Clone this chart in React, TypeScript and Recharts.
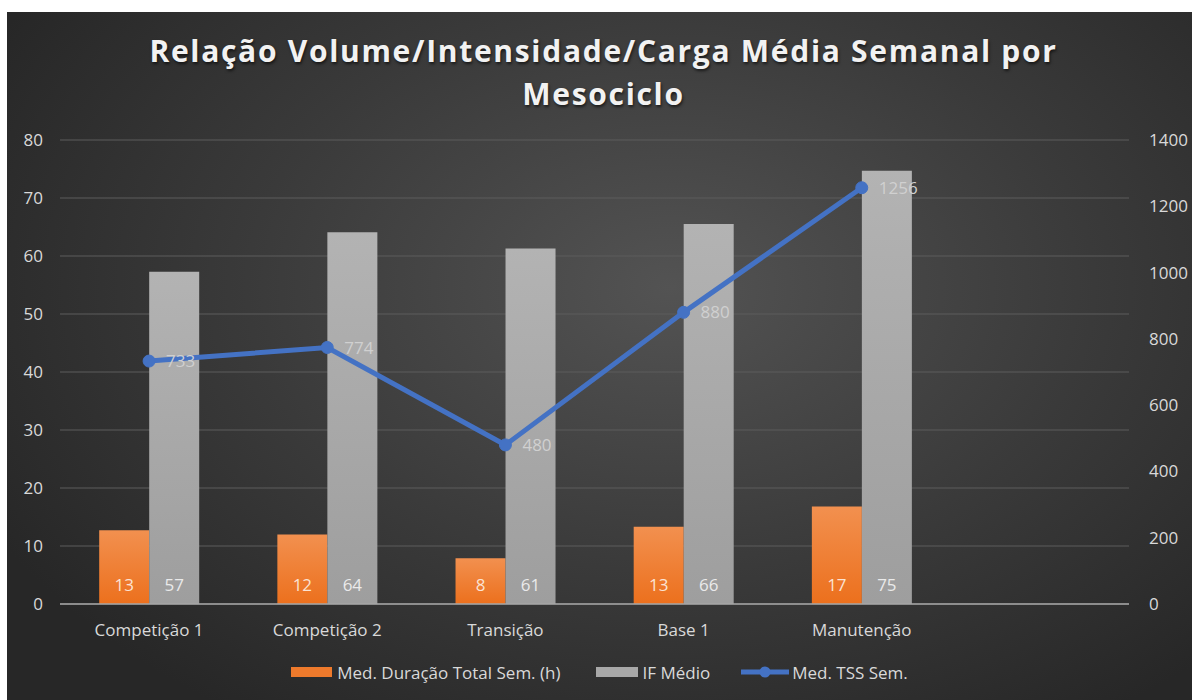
import React from "react";
import { ComposedChart, Bar, Line, XAxis, YAxis, CartesianGrid, Legend, LabelList } from "recharts";

const categories = ["Competição 1", "Competição 2", "Transição", "Base 1", "Manutenção", ""];
const duracao = [12.7, 12.0, 7.9, 13.3, 16.8, null];
const ifMedio = [57.3, 64.1, 61.3, 65.5, 74.7, null];
const tss = [733, 774, 480, 880, 1256, null];
const leftTicks = [0, 10, 20, 30, 40, 50, 60, 70, 80];
const rightTicks = [0, 200, 400, 600, 800, 1000, 1200, 1400];

const data = categories.map((name, i) => ({
  name,
  duracao: duracao[i],
  ifMedio: ifMedio[i],
  tss: tss[i],
}));

const FONT = "'Open Sans', sans-serif";
const TEXT = "#D9D9D9";
const BLUE = "#4472C4";

const fmt = (v: any) => (v == null ? "" : String(Math.round(Number(v))));

function LegendContent() {
  const item = { display: "flex", alignItems: "center", color: TEXT, fontSize: 17 } as const;
  return (
    <div style={{ display: "flex", justifyContent: "center", alignItems: "center", height: 24, fontFamily: FONT }}>
      <div style={{ ...item, marginRight: 36 }}>
        <span style={{ width: 41, height: 10, background: "#EE7A2C", marginRight: 5 }} />
        Med. Duração Total Sem. (h)
      </div>
      <div style={{ ...item, marginRight: 31 }}>
        <span style={{ width: 42, height: 10, background: "#A8A8A8", marginRight: 4 }} />
        IF Médio
      </div>
      <div style={item}>
        <svg width={48} height={14} style={{ marginRight: 3 }}>
          <line x1={0} y1={7} x2={48} y2={7} stroke={BLUE} strokeWidth={5} />
          <circle cx={24} cy={7} r={5.5} fill={BLUE} />
        </svg>
        Med. TSS Sem.
      </div>
    </div>
  );
}

export default function App() {
  return (
    <div
      style={{
        position: "absolute",
        left: 7,
        top: 12,
        width: 1185,
        height: 688,
        overflow: "hidden",
        background: "radial-gradient(ellipse 65% 75% at 56% 40%, #535353 0%, #3a3a3a 55%, #272727 100%)",
        fontFamily: FONT,
      }}
    >
      <div
        style={{
          position: "absolute",
          top: 17,
          left: 4,
          width: 1185,
          textAlign: "center",
          color: "#F2F2F2",
          fontSize: 30,
          fontWeight: 700,
          letterSpacing: 1.7,
          lineHeight: "43px",
          textShadow: "1px 2px 3px rgba(0,0,0,0.6)",
        }}
      >
        Relação Volume/Intensidade/Carga Média Semanal por
        <br />
        Mesociclo
      </div>
      <ComposedChart
        width={1185}
        height={688}
        data={data}
        margin={{ top: 128, right: 0, left: 0, bottom: 16 }}
        barCategoryGap="22%"
        barGap={0}
      >
        <defs>
          <linearGradient id="gOrange" x1="0" y1="0" x2="0" y2="1">
            <stop offset="0%" stopColor="#F2904F" />
            <stop offset="100%" stopColor="#EC701D" />
          </linearGradient>
          <linearGradient id="gGray" x1="0" y1="0" x2="0" y2="1">
            <stop offset="0%" stopColor="#B3B3B3" />
            <stop offset="100%" stopColor="#9E9E9E" />
          </linearGradient>
        </defs>
        <CartesianGrid yAxisId="left" vertical={false} stroke="#5C5C5C" strokeWidth={1} />
        <XAxis
          dataKey="name"
          interval={0}
          tickLine={false}
          tickSize={0}
          tickMargin={20}
          height={56}
          axisLine={{ stroke: "#A6A6A6", strokeWidth: 1.5 }}
          tick={{ fill: TEXT, fontSize: 17, fontFamily: FONT }}
        />
        <YAxis
          yAxisId="left"
          width={53}
          domain={[0, 80]}
          ticks={leftTicks}
          axisLine={false}
          tickLine={false}
          tickSize={0}
          tickMargin={17}
          tick={{ fill: TEXT, fontSize: 17, fontFamily: FONT }}
        />
        <YAxis
          yAxisId="right"
          orientation="right"
          width={63}
          domain={[0, 1400]}
          ticks={rightTicks}
          axisLine={false}
          tickLine={false}
          tickSize={0}
          tickMargin={20}
          tick={{ fill: TEXT, fontSize: 17, fontFamily: FONT, textAnchor: "start" }}
        />
        <Legend verticalAlign="bottom" content={<LegendContent />} />
        <Bar yAxisId="left" dataKey="duracao" name="Med. Duração Total Sem. (h)" fill="url(#gOrange)" isAnimationActive={false}>
          <LabelList dataKey="duracao" position="insideBottom" offset={13} formatter={fmt} fill="#FBE3D3" fontSize={17} fontFamily={FONT} />
        </Bar>
        <Bar yAxisId="left" dataKey="ifMedio" name="IF Médio" fill="url(#gGray)" isAnimationActive={false}>
          <LabelList dataKey="ifMedio" position="insideBottom" offset={13} formatter={fmt} fill="#EAEAEA" fontSize={17} fontFamily={FONT} />
        </Bar>
        <Line
          yAxisId="right"
          dataKey="tss"
          name="Med. TSS Sem."
          type="linear"
          stroke={BLUE}
          strokeWidth={5}
          dot={{ r: 6, fill: BLUE, stroke: BLUE, strokeWidth: 1 }}
          activeDot={false}
          isAnimationActive={false}
        >
          <LabelList dataKey="tss" position="right" offset={17} formatter={fmt} fill="#D0D0D0" fontSize={17} fontFamily={FONT} />
        </Line>
      </ComposedChart>
    </div>
  );
}
